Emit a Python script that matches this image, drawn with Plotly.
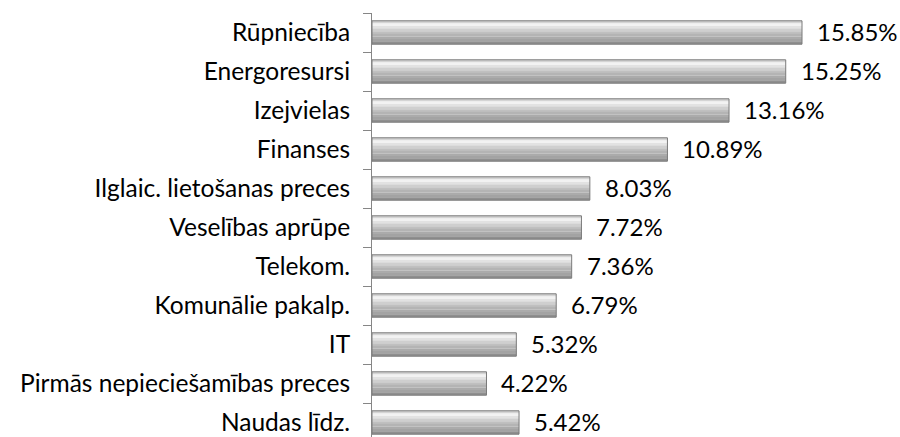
import plotly.graph_objects as go

categories = ["Rūpniecība", "Energoresursi", "Izejvielas", "Finanses",
              "Ilglaic. lietošanas preces", "Veselības aprūpe", "Telekom.",
              "Komunālie pakalp.", "IT", "Pirmās nepieciešamības preces", "Naudas līdz."]
values = [15.85, 15.25, 13.16, 10.89, 8.03, 7.72, 7.36, 6.79, 5.32, 4.22, 5.42]
value_labels = ["15.85%", "15.25%", "13.16%", "10.89%", "8.03%", "7.72%", "7.36%",
                "6.79%", "5.32%", "4.22%", "5.42%"]

strip_colors = ["#d4d4d4", "#f2f2f2", "#e2e2e2", "#cfcfcf", "#c0c0c0",
                "#b4b4b4", "#ababab", "#a3a3a3", "#8f8f8f"]
bar_w = 0.6
sw = bar_w / len(strip_colors)

fig = go.Figure()
for k, c in enumerate(strip_colors):
    fig.add_trace(go.Bar(
        x=values, y=categories, orientation="h",
        width=sw * 1.05, offset=-bar_w / 2 + k * sw,
        marker=dict(color=c, line=dict(width=0)),
        hoverinfo="skip", showlegend=False))
# outline
fig.add_trace(go.Bar(
    x=values, y=categories, orientation="h",
    width=bar_w, offset=-bar_w / 2,
    marker=dict(color="rgba(0,0,0,0)", line=dict(color="#7a7a7a", width=1)),
    showlegend=False))

for v, cat, lab in zip(values, categories, value_labels):
    fig.add_annotation(x=v, y=cat, text=lab, showarrow=False,
                       xanchor="left", yanchor="middle", xshift=14, yshift=1,
                       borderpad=0,
                       font=dict(size=24, color="#000000"))

fig.update_layout(
    width=900, height=437,
    margin=dict(l=372, r=10, t=13, b=0, autoexpand=False),
    barmode="overlay",
    plot_bgcolor="white", paper_bgcolor="white",
    font=dict(family="Lato, Calibri, sans-serif", size=24.5, color="#000000"),
    xaxis=dict(range=[0, 518 / 27.13], visible=False, fixedrange=True,
               automargin=False),
    yaxis=dict(type="category", categoryorder="array", categoryarray=categories,
               range=[-0.5 + 424 / 39, -0.5], automargin=False,
               showline=True, linecolor="#868686", linewidth=1,
               ticks="outside", ticklen=8, tickcolor="#868686",
               tickson="boundaries", ticklabelstandoff=16,
               showgrid=False, zeroline=False),
)

fig.write_html("out.html",
               config={"displayModeBar": False},
               post_script="document.body.style.margin='0';"
                           "document.body.style.overflow='hidden';")
